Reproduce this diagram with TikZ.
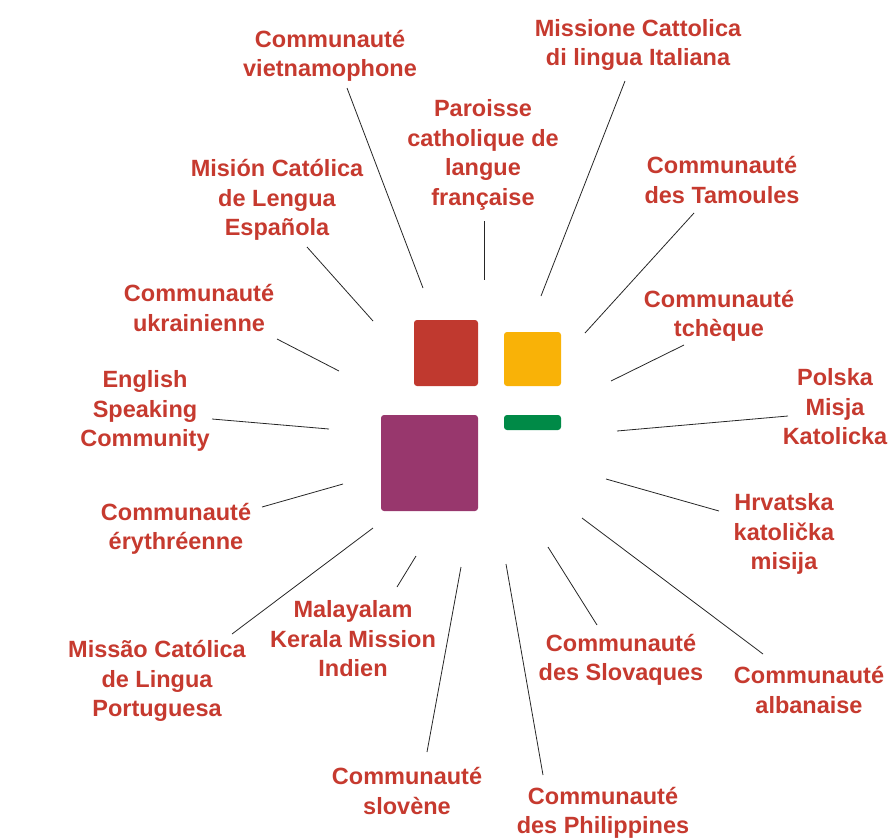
\documentclass[tikz,border=0pt]{standalone}
\usepackage{fontspec}
\setmainfont{Liberation Sans}
\usetikzlibrary{positioning}
\definecolor{labelred}{RGB}{198,58,47}
\definecolor{boxred}{RGB}{192,57,47}
\definecolor{boxyellow}{RGB}{249,178,7}
\definecolor{boxgreen}{RGB}{0,138,71}
\definecolor{boxpurple}{RGB}{152,55,109}

\begin{document}
\begin{tikzpicture}[x=1pt,y=1pt,yscale=-1,
  lbl/.style={text=labelred, font=\fontsize{23.5}{29.5}\selectfont\bfseries, align=center, inner sep=0pt},
  lead/.style={draw=black!85, line width=0.8pt},
  tile/.style={rounded corners=3pt, draw=none}]
\useasboundingbox (0,0) rectangle (894,839);

%Shapes: the four tiles
\fill [tile, boxred] (414,320) rectangle (478,386);
\fill [tile, boxyellow] (504,332) rectangle (561,386);
\fill [tile, boxgreen] (504,415) rectangle (561,430);
\fill [tile, boxpurple] (381,415) rectangle (478,511);

% Text Node
\node [lbl] (viet) at (330,56) {Communauté\\vietnamophone};
% Text Node
\node [lbl] (paroisse) at (483,155) {Paroisse\\catholique de\\langue\\française};
% Text Node
\node [lbl] (italiana) at (638,45) {Missione Cattolica\\di lingua Italiana};
% Text Node
\node [lbl] (tamoules) at (722,180) {Communauté\\des Tamoules};
% Text Node
\node [lbl] (tcheque) at (719,316) {Communauté\\tchèque};
% Text Node
\node [lbl] (polska) at (835,407) {Polska\\Misja\\Katolicka};
% Text Node
\node [lbl] (hrvatska) at (784,534) {Hrvatska\\katolička\\misija};
% Text Node
\node [lbl] (albanaise) at (809,690) {Communauté\\albanaise};
% Text Node
\node [lbl] (slovaques) at (621,660) {Communauté\\des Slovaques};
% Text Node
\node [lbl] (philippines) at (603,813) {Communauté\\des Philippines};
% Text Node
\node [lbl] (slovene) at (407,791) {Communauté\\slovène};
% Text Node
\node [lbl] (malayalam) at (353,639) {Malayalam\\Kerala Mission\\Indien};
% Text Node
\node [lbl] (portuguesa) at (157,681) {Missão Católica\\de Lingua\\Portuguesa};
% Text Node
\node [lbl] (erythreenne) at (176,529) {Communauté\\érythréenne};
% Text Node
\node [lbl] (english) at (145,411) {English\\Speaking\\Community};
% Text Node
\node [lbl] (ukrainienne) at (199,308) {Communauté\\ukrainienne};
% Text Node
\node [lbl] (espanola) at (277,200) {Misión Católica\\de Lengua\\Española};

%Lead ends
\coordinate (viet-o) at (347,88);          \coordinate (viet-i) at (423,288);
\coordinate (paroisse-o) at (484,221);     \coordinate (paroisse-i) at (484,280);
\coordinate (italiana-o) at (625,81);      \coordinate (italiana-i) at (541,296);
\coordinate (tamoules-o) at (694,213);     \coordinate (tamoules-i) at (585,333);
\coordinate (tcheque-o) at (684,345);      \coordinate (tcheque-i) at (611,381);
\coordinate (polska-o) at (788,416);       \coordinate (polska-i) at (617,431);
\coordinate (hrvatska-o) at (719,511);     \coordinate (hrvatska-i) at (606,479);
\coordinate (albanaise-o) at (763,654);    \coordinate (albanaise-i) at (582,518);
\coordinate (slovaques-o) at (597,625);    \coordinate (slovaques-i) at (548,547);
\coordinate (philippines-o) at (543,775);  \coordinate (philippines-i) at (506,564);
\coordinate (slovene-o) at (427,752);      \coordinate (slovene-i) at (461,567);
\coordinate (malayalam-o) at (397,587);    \coordinate (malayalam-i) at (416,556);
\coordinate (portuguesa-o) at (232,634);   \coordinate (portuguesa-i) at (373,528);
\coordinate (erythreenne-o) at (262,507);  \coordinate (erythreenne-i) at (343,484);
\coordinate (english-o) at (212,419);      \coordinate (english-i) at (329,429);
\coordinate (ukrainienne-o) at (277,339);  \coordinate (ukrainienne-i) at (339,371);
\coordinate (espanola-o) at (307,247);     \coordinate (espanola-i) at (373,321);

%Straight Lines
\draw [lead] (viet-o) -- (viet-i);
\draw [lead] (paroisse-o) -- (paroisse-i);
\draw [lead] (italiana-o) -- (italiana-i);
\draw [lead] (tamoules-o) -- (tamoules-i);
\draw [lead] (tcheque-o) -- (tcheque-i);
\draw [lead] (polska-o) -- (polska-i);
\draw [lead] (hrvatska-o) -- (hrvatska-i);
\draw [lead] (albanaise-o) -- (albanaise-i);
\draw [lead] (slovaques-o) -- (slovaques-i);
\draw [lead] (philippines-o) -- (philippines-i);
\draw [lead] (slovene-o) -- (slovene-i);
\draw [lead] (malayalam-o) -- (malayalam-i);
\draw [lead] (portuguesa-o) -- (portuguesa-i);
\draw [lead] (erythreenne-o) -- (erythreenne-i);
\draw [lead] (english-o) -- (english-i);
\draw [lead] (ukrainienne-o) -- (ukrainienne-i);
\draw [lead] (espanola-o) -- (espanola-i);

\end{tikzpicture}
\end{document}
